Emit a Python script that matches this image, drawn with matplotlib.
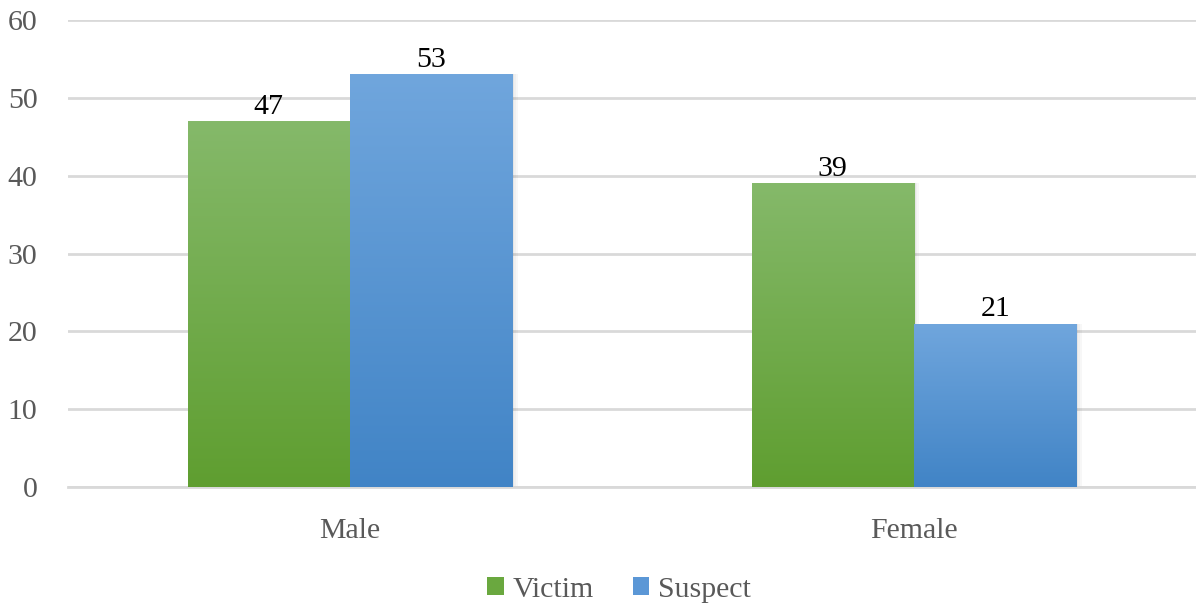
import numpy as np
import matplotlib
matplotlib.use("Agg")
import matplotlib.pyplot as plt
from matplotlib.colors import LinearSegmentedColormap
from matplotlib.patches import Patch

categories = ["Male", "Female"]
series_names = ["Victim", "Suspect"]
victim = [47, 39]
suspect = [53, 21]
yticks = [0, 10, 20, 30, 40, 50, 60]

plt.rcParams['font.family'] = ['Liberation Serif', 'DejaVu Serif']

fig = plt.figure(figsize=(11.96, 6.06), dpi=100)
ax = fig.add_axes([68/1196, 1-487/606, 1-68/1196, (487-20)/606])

x = np.arange(len(categories))
w = 0.288
grad = {
    "Victim": ("#85b96a", "#5f9e30"),
    "Suspect": ("#70a6dd", "#4184c6"),
}
FS = 21.5
for vals, name, off in [(victim, "Victim", -w/2), (suspect, "Suspect", w/2)]:
    top, bot = grad[name]
    cmap = LinearSegmentedColormap.from_list(name, [bot, top])
    bars = ax.bar(x + off, vals, width=w, color="none", edgecolor="none", zorder=3)
    for b, v in zip(bars, vals):
        x0 = b.get_x()
        bw, bh = b.get_width(), b.get_height()
        # soft shadow on the right
        for k, a in enumerate([0.10, 0.06, 0.03]):
            ax.bar(x0 + bw + k * 0.003, bh, width=0.003, bottom=0, align="edge",
                   color="#000000", alpha=a, zorder=2, edgecolor="none")
        img = np.linspace(0, 1, 256).reshape(-1, 1)
        im = ax.imshow(img, cmap=cmap, origin="lower", aspect="auto",
                       extent=[x0, x0 + bw, 0, bh], zorder=3, interpolation="bilinear")
        im.set_clip_path(b)
        ax.text(x0 + bw/2, v + 0.2, str(v), ha="center", va="bottom",
                fontsize=FS, color="black", zorder=4)

handles = [Patch(facecolor="#6aa83f", edgecolor="none", label="Victim"),
           Patch(facecolor="#5b97d6", edgecolor="none", label="Suspect")]

ax.set_xlim(-0.5, 1.5)
ax.set_ylim(0, 60)
ax.set_yticks(yticks)
ax.set_yticklabels([str(t) for t in yticks])
ax.set_xticks(x)
ax.set_xticklabels(categories)
ax.tick_params(axis="y", length=0, pad=22, labelsize=FS, labelcolor="#595959")
ax.tick_params(axis="x", length=0, pad=22, labelsize=FS, labelcolor="#595959")
for lab in ax.get_yticklabels():
    lab.set_horizontalalignment("right")
ax.grid(axis="y", color="#d9d9d9", linewidth=2, zorder=0)
ax.set_axisbelow(True)
for s in ["top", "right", "left"]:
    ax.spines[s].set_visible(False)
ax.spines["bottom"].set_color("#d9d9d9")
ax.spines["bottom"].set_linewidth(2)

fig.legend(handles=handles, loc="center", bbox_to_anchor=(619/1196, 1-590/606),
           ncol=2, frameon=False, fontsize=FS, labelcolor="#595959",
           handlelength=0.55, handleheight=0.55, handletextpad=0.3, columnspacing=1.3)

fig.savefig("out.png", dpi=100)
